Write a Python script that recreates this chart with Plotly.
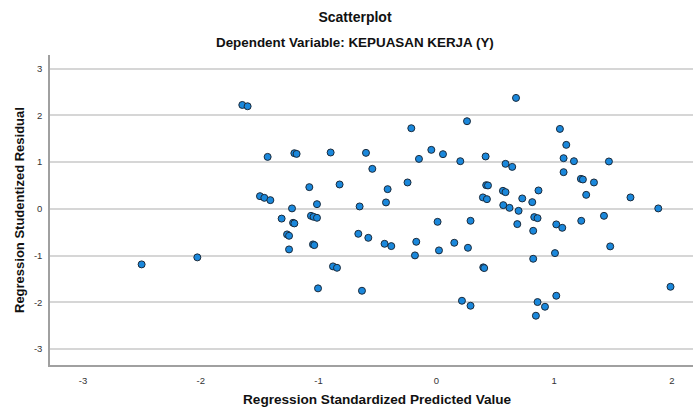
import plotly.graph_objects as go

# Regression Standardized Predicted Value
pred = [-2.502, -2.029, -1.647, -1.602, -1.497, -1.460, -1.432, -1.409, -1.313, -1.267,
        -1.250, -1.250, -1.225, -1.216, -1.205, -1.205, -1.186, -1.078, -1.064, -1.042,
        -1.013, -1.047, -1.036, -1.013, -1.004, -0.897, -0.877, -0.843, -0.821, -0.662,
        -0.651, -0.631, -0.597, -0.577, -0.543, -0.439, -0.427, -0.413, -0.382, -0.244,
        -0.212, -0.181, -0.170, -0.147, -0.042, 0.011, 0.023, 0.057, 0.153, 0.204,
        0.218, 0.261, 0.269, 0.291, 0.291, 0.396, 0.399, 0.407, 0.419, 0.424,
        0.439, 0.430, 0.566, 0.588, 0.569, 0.588, 0.622, 0.645, 0.677, 0.688,
        0.699, 0.730, 0.815, 0.823, 0.823, 0.832, 0.860, 0.846, 0.860, 0.868,
        0.923, 1.008, 1.019, 1.070, 1.019, 1.050, 1.081, 1.081, 1.104, 1.169,
        1.228, 1.245, 1.231, 1.273, 1.339, 1.424, 1.466, 1.477, 1.649, 1.885,
        1.989]

# Regression Studentized Residual
resid = [-1.188, -1.038, 2.222, 2.194, 0.271, 0.235, 1.111, 0.186, -0.209, -0.547,
         -0.577, -0.868, 0.009, -0.299, -0.312, 1.190, 1.175, 0.464, -0.150, -0.171,
         -0.192, -0.761, -0.776, 0.100, -1.701, 1.205, -1.231, -1.261, 0.521, -0.534,
         0.051, -1.752, 1.197, -0.620, 0.855, -0.748, 0.137, 0.421, -0.797, 0.564,
         1.724, -0.996, -0.705, 1.068, 1.261, -0.278, -0.889, 1.169, -0.726, 1.019,
         -1.966, 1.874, -0.833, -0.256, -2.073, 0.244, -1.252, -1.267, 1.120, 0.506,
         0.500, 0.207, 0.385, 0.357, 0.079, 0.962, 0.021, 0.897, 2.372, -0.327,
         -0.043, 0.222, 0.143, -0.470, -1.068, -0.177, -0.199, -2.286, -1.994, 0.393,
         -2.094, -0.947, -0.333, -0.406, -1.859, 1.709, 1.083, 0.784, 1.368, 1.019,
         0.641, 0.628, -0.256, 0.299, 0.564, -0.150, 1.013, -0.803, 0.244, 0.009,
         -1.667]

x_ticks = [-3, -2, -1, 0, 1, 2]
y_ticks = [-3, -2, -1, 0, 1, 2, 3]

FONT = "Liberation Sans, Arial, sans-serif"
L, T, B, W, H = 50, 55, 45, 693, 410
PW, PH = W - L, H - T - B

fig = go.Figure()
fig.add_trace(go.Scatter(
    x=pred, y=resid, mode="markers",
    marker=dict(size=7, color="#1a88dc", line=dict(color="#1b2a3a", width=1)),
    showlegend=False, hoverinfo="skip"))

fig.update_layout(
    width=W, height=H,
    margin=dict(l=L, r=0, t=T, b=B),
    paper_bgcolor="white", plot_bgcolor="white",
    font=dict(family=FONT, color="#222"),
    title=dict(text="<b>Scatterplot</b>", x=355 / W, xref="container", xanchor="center",
               y=1 - 17 / H, yref="container", yanchor="middle",
               font=dict(size=14, family=FONT, color="#111")),
)

fig.add_annotation(text="<b>Dependent Variable: KEPUASAN KERJA (Y)</b>",
                   xref="paper", yref="paper", x=(355 - L) / PW, y=(H - B - 43) / PH,
                   xanchor="center", yanchor="middle", showarrow=False,
                   font=dict(size=13.4, family=FONT, color="#111"))
fig.add_annotation(text="<b>Regression Standardized Predicted Value</b>",
                   xref="paper", yref="paper", x=(377 - L) / PW, y=-(399 - (H - B)) / PH,
                   xanchor="center", yanchor="middle", showarrow=False,
                   font=dict(size=13.6, family=FONT, color="#111"))
fig.add_annotation(text="<b>Regression Studentized Residual</b>",
                   xref="paper", yref="paper", x=-(L - 19) / PW, y=0.5,
                   xanchor="center", yanchor="middle", showarrow=False, textangle=-90,
                   font=dict(size=13, family=FONT, color="#111"))

fig.update_xaxes(range=[-3.28, 2.18], tickvals=x_ticks, ticktext=[str(v) for v in x_ticks],
                 showgrid=False, zeroline=False, showline=True, linecolor="#a0a0a0", linewidth=1.5,
                 ticks="", ticklabelstandoff=6, tickfont=dict(size=9.5, color="#333", family=FONT))
fig.update_yaxes(range=[-3.34, 3.29], tickvals=y_ticks, ticktext=[str(v) for v in y_ticks],
                 showgrid=True, gridcolor="#d6d6d6", gridwidth=1.5, zeroline=False,
                 showline=True, linecolor="#a0a0a0", linewidth=1.5,
                 ticks="", ticklabelstandoff=4, tickfont=dict(size=9.5, color="#333", family=FONT))

fig.write_html("out.html", config={"displayModeBar": False},
               post_script="document.body.style.margin='0';document.body.style.overflow='hidden';")
